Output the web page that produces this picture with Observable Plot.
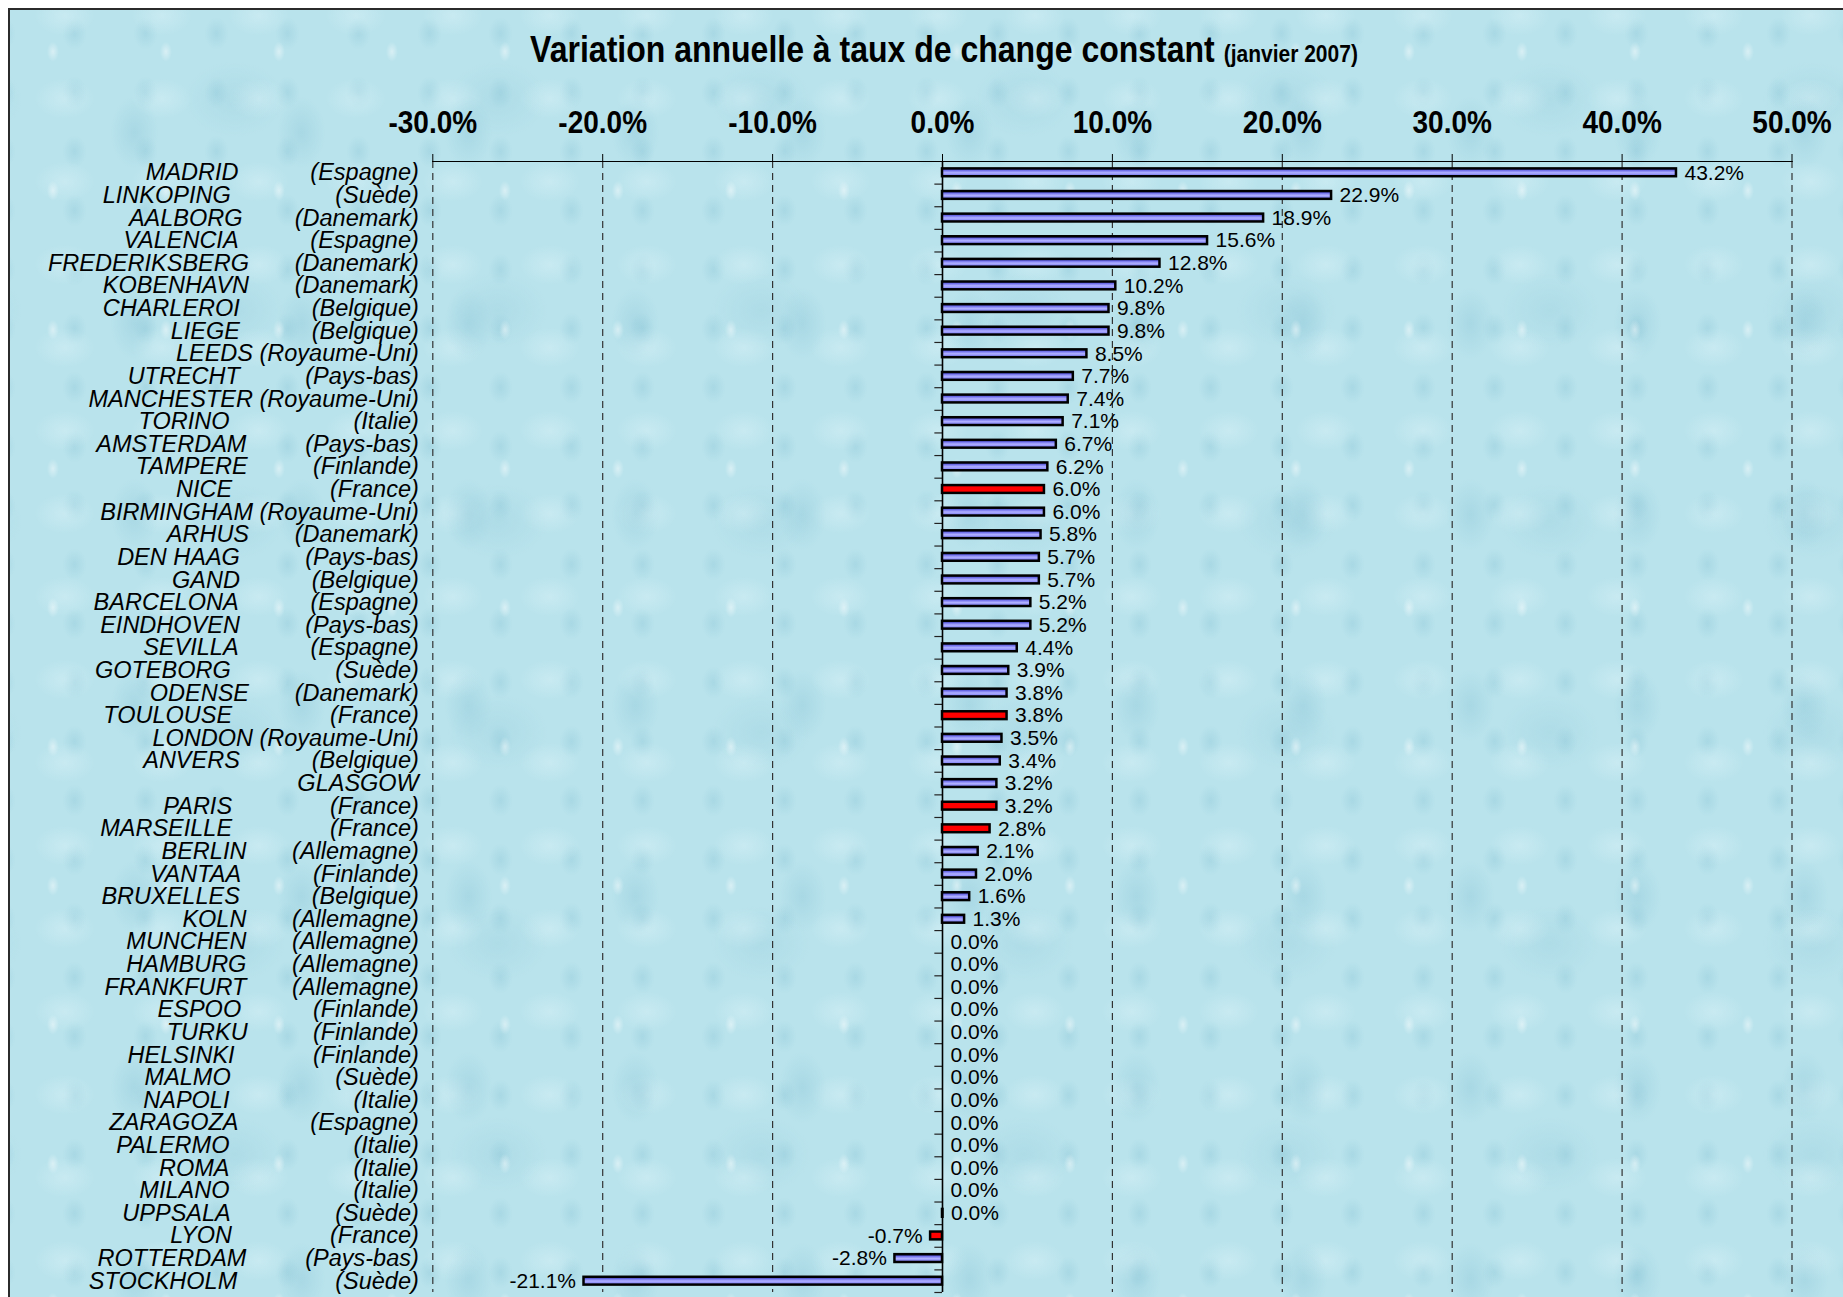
<!DOCTYPE html>
<html>
<head>
<meta charset="utf-8">
<script src="https://cdn.jsdelivr.net/npm/d3@7"></script>
<script src="https://cdn.jsdelivr.net/npm/@observablehq/plot@0.6"></script>
<style>
  html, body { margin: 0; padding: 0; background: #fff; overflow: hidden; width: 1843px; height: 1297px; }
  #frame {
    position: absolute; left: 8px; top: 8px; width: 1900px; height: 1400px;
    border-left: 2px solid #2b2b2b; border-top: 2px solid #2b2b2b;
    background-color: #b9e3ec;
    background-image:
      radial-gradient(ellipse 6px 10px at 38% 30%, rgba(255,255,255,0.45), rgba(255,255,255,0) 100%),
      radial-gradient(ellipse 24px 36px at 50% 50%, rgba(120,185,206,0.26), rgba(120,185,206,0) 100%),
      radial-gradient(ellipse 30px 20px at 45% 55%, rgba(228,247,251,0.35), rgba(228,247,251,0) 100%),
      radial-gradient(ellipse 50px 38px at 60% 40%, rgba(125,188,208,0.18), rgba(125,188,208,0) 100%),
      radial-gradient(ellipse 12px 16px at 50% 50%, rgba(110,178,200,0.22), rgba(110,178,200,0) 100%);
    background-size: 113px 139px, 167px 191px, 97px 83px, 263px 211px, 71px 59px;
    background-position: 0 0, 41px 27px, 11px 43px, 67px 5px, 29px 53px;
  }
  #title {
    position: absolute; left: 934px; top: 25px; transform: translateX(-50%) scaleY(1.13); transform-origin: 50% 80%;
    white-space: nowrap; font-family: "Liberation Sans", Arial, sans-serif;
    font-weight: bold; font-size: 32px; line-height: 32px; color: #000;
  }
  #title span { font-size: 21px; }
  #chart { position: absolute; left: 0; top: 70px; }
</style>
</head>
<body>
<svg width="0" height="0" style="position:absolute">
  <defs>
    <linearGradient id="blueGrad" x1="0" y1="0" x2="0" y2="1">
      <stop offset="0" stop-color="#2525b0"/>
      <stop offset="0.3" stop-color="#7878ee"/>
      <stop offset="0.55" stop-color="#b0b0ff"/>
      <stop offset="0.8" stop-color="#8c8cf8"/>
      <stop offset="1" stop-color="#6262da"/>
    </linearGradient>
  </defs>
</svg>
<div id="frame">
  <div id="title">Variation annuelle à taux de change constant <span>(janvier 2007)</span></div>
  <div id="chart"></div>
</div>
<script>
// ---- data ----
const cities = ["MADRID","LINKOPING","AALBORG","VALENCIA","FREDERIKSBERG","KOBENHAVN","CHARLEROI","LIEGE","LEEDS","UTRECHT",
  "MANCHESTER","TORINO","AMSTERDAM","TAMPERE","NICE","BIRMINGHAM","ARHUS","DEN HAAG","GAND","BARCELONA",
  "EINDHOVEN","SEVILLA","GOTEBORG","ODENSE","TOULOUSE","LONDON","ANVERS","GLASGOW","PARIS","MARSEILLE",
  "BERLIN","VANTAA","BRUXELLES","KOLN","MUNCHEN","HAMBURG","FRANKFURT","ESPOO","TURKU","HELSINKI",
  "MALMO","NAPOLI","ZARAGOZA","PALERMO","ROMA","MILANO","UPPSALA","LYON","ROTTERDAM","STOCKHOLM"];
const countries = ["Espagne","Suède","Danemark","Espagne","Danemark","Danemark","Belgique","Belgique","Royaume-Uni","Pays-bas",
  "Royaume-Uni","Italie","Pays-bas","Finlande","France","Royaume-Uni","Danemark","Pays-bas","Belgique","Espagne",
  "Pays-bas","Espagne","Suède","Danemark","France","Royaume-Uni","Belgique","","France","France",
  "Allemagne","Finlande","Belgique","Allemagne","Allemagne","Allemagne","Allemagne","Finlande","Finlande","Finlande",
  "Suède","Italie","Espagne","Italie","Italie","Italie","Suède","France","Pays-bas","Suède"];
// number of blank characters between city and country in the original labels
const gaps = [11,16,8,11,7,7,11,11,1,10, 1,19,9,10,15,1,7,10,11,11, 10,11,16,7,15,1,11,0,15,15,
  7,11,11,7,7,7,7,11,10,12, 16,19,11,19,19,19,16,15,9,15];
const values = [43.2,22.9,18.9,15.6,12.8,10.2,9.8,9.8,8.5,7.7, 7.4,7.1,6.7,6.2,6.0,6.0,5.8,5.7,5.7,5.2,
  5.2,4.4,3.9,3.8,3.8,3.5,3.4,3.2,3.2,2.8, 2.1,2.0,1.6,1.3,0,0,0,0,0,0,
  0,0,0,0,0,0,0.03,-0.7,-2.8,-21.1];
const xTicks = [-30,-20,-10,0,10,20,30,40,50];

// ---- build ----
const tickLabels = cities.map((c, i) => countries[i] ? c + "\u00a0".repeat(gaps[i]) + "(" + countries[i] + ")" : c);
const labelOf = new Map(cities.map((c, i) => [c, tickLabels[i]]));
const rows = cities.map((c, i) => ({city: c, v: values[i], fr: countries[i] === "France"}));
const fmt = d => d.v.toFixed(1) + "%";

const step = 22.62;
const marginTop = 81, marginBottom = 28;
const H = marginTop + cities.length * step + marginBottom;

const plot = Plot.plot({
  width: 1833,
  height: H,
  marginTop, marginBottom,
  marginLeft: 422.3,
  marginRight: 51.5,
  style: {background: "transparent", maxWidth: "none", overflow: "visible",
          fontFamily: "'Liberation Sans', Arial, sans-serif", color: "#000"},
  x: {domain: [-30, 50], axis: null},
  y: {domain: cities, padding: 0, axis: null},
  marks: [
    Plot.ruleX(xTicks.filter(d => d !== 0), {stroke: "#333", strokeWidth: 1.2, strokeDasharray: "7,5"}),
    Plot.frame({anchor: "top", stroke: "#000", strokeWidth: 1.2}),
    Plot.axisX({anchor: "top", label: null, ticks: xTicks, tickFormat: d => d.toFixed(1) + "%", tickSize: 8, tickPadding: 21,
                fontSize: 28, fontWeight: "bold", stroke: "#000", ariaLabel: "x-axis"}),
    Plot.axisY({anchor: "left", label: null, tickSize: 0, tickPadding: 14, tickFormat: c => labelOf.get(c),
                fontSize: 23.5, fontStyle: "italic", fill: "#000"}),
    Plot.ruleY(cities, {y: d => d, x1: -0.45, x2: 0, dy: step / 2, stroke: "#222", strokeWidth: 1.2}),
    Plot.ruleX([0], {stroke: "#000", strokeWidth: 1.6}),
    Plot.barX(rows.filter(d => d.v !== 0 && !d.fr), {x: "v", y: "city", fill: "url(#blueGrad)", stroke: "#000",
                strokeWidth: 2.5, insetTop: 7.4, insetBottom: 7.4}),
    Plot.barX(rows.filter(d => d.v !== 0 && d.fr), {x: "v", y: "city", fill: "#ff0000", stroke: "#000",
                strokeWidth: 2.5, insetTop: 7.4, insetBottom: 7.4}),
    Plot.text(rows.filter(d => d.v >= 0), {x: "v", y: "city", text: fmt, textAnchor: "start", dx: 8,
                fontSize: 21, fill: "#000"}),
    Plot.text(rows.filter(d => d.v < 0), {x: "v", y: "city", text: fmt, textAnchor: "end", dx: -8,
                fontSize: 21, fill: "#000"})
  ]
});
document.getElementById("chart").appendChild(plot);
// the original's bold tick labels are drawn slightly taller than wide
d3.select(plot).selectAll("g[aria-label='x-axis tick label'] text").each(function() {
  const t = this.getAttribute("transform");
  if (t) this.setAttribute("transform", t + " scale(1,1.13)");
});
</script>
</body>
</html>
